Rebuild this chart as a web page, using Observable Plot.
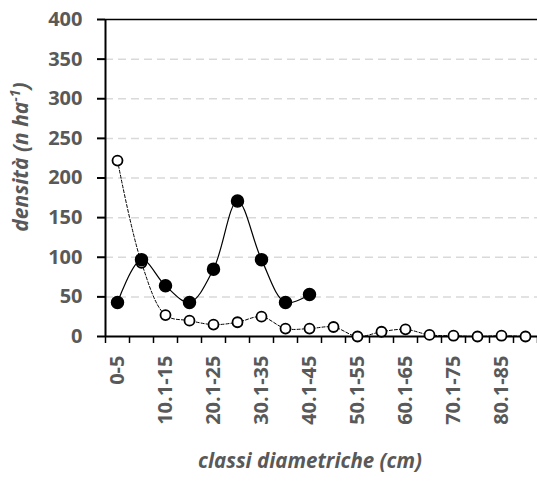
<!DOCTYPE html>
<html>
<head>
<meta charset="utf-8">
<script src="https://cdn.jsdelivr.net/npm/d3@7"></script>
<script src="https://cdn.jsdelivr.net/npm/@observablehq/plot@0.6"></script>
<style>
  html, body { margin: 0; padding: 0; background: #fff; }
  #chart svg { display: block; }
</style>
</head>
<body>
<div id="chart"></div>
<script>
const categories = ["0-5","5.1-10","10.1-15","15.1-20","20.1-25","25.1-30","30.1-35","35.1-40","40.1-45","45.1-50","50.1-55","55.1-60","60.1-65","65.1-70","70.1-75","75.1-80","80.1-85","85.1-90"];
const filledValues = [43, 97, 64, 43, 85, 171, 97, 43, 53];
const openValues = [222, 93, 27, 20, 15, 18, 25, 10, 10, 12, 0, 6, 9, 2, 1, 0, 1, 0];
const yTicks = [0, 50, 100, 150, 200, 250, 300, 350, 400];
const gridTicks = [50, 100, 150, 200, 250, 300, 350];
const xTickLabels = ["0-5","10.1-15","20.1-25","30.1-35","40.1-45","50.1-55","60.1-65","70.1-75","80.1-85"];

const filled = filledValues.map((v, i) => ({i, v}));
const open = openValues.map((v, i) => ({i, v}));
const boundaries = d3.range(categories.length + 1).map(k => k - 0.5);
const labelIdx = xTickLabels.map(l => categories.indexOf(l));

const gray = "#595959";
const font = "'Open Sans', sans-serif";

const plot = Plot.plot({
  width: 537,
  height: 481,
  marginLeft: 105,
  marginRight: 0,
  marginTop: 19,
  marginBottom: 145,
  style: {fontFamily: font, background: "#fff"},
  x: {type: "linear", domain: [-0.5, categories.length - 0.5]},
  y: {domain: [0, 400]},
  marks: [
    Plot.ruleY(gridTicks, {stroke: "#d9d9d9", strokeWidth: 1.5, strokeDasharray: "8,5"}),
    Plot.axisY({ticks: yTicks, tickSize: 8, tickPadding: 15, tickFormat: d => d, label: null,
      fill: gray, fontSize: 20, fontWeight: "bold", stroke: "#000", strokeWidth: 2}),
    Plot.axisX({ticks: boundaries, tickSize: 7, tickFormat: () => "", label: null, stroke: "#000", strokeWidth: 1.5}),
    Plot.axisX({ticks: labelIdx, tickSize: 0, tickPadding: 19, tickRotate: -90, tickFormat: i => categories[i],
      label: null, fill: gray, fontSize: 20, fontWeight: "bold"}),
    Plot.ruleY([400], {stroke: "#000", strokeWidth: 1.5}),
    Plot.ruleX([-0.5], {stroke: "#000", strokeWidth: 2}),
    Plot.ruleY([0], {stroke: "#000", strokeWidth: 2}),
    Plot.line(open, {x: "i", y: "v", curve: "catmull-rom", stroke: "#000", strokeWidth: 1, strokeDasharray: "3,2"}),
    Plot.dot(open, {x: "i", y: "v", r: 5, fill: "#fff", stroke: "#000", strokeWidth: 1.8}),
    Plot.line(filled, {x: "i", y: "v", curve: "catmull-rom", stroke: "#000", strokeWidth: 1.2}),
    Plot.dot(filled, {x: "i", y: "v", r: 6, fill: "#000", stroke: "#000"})
  ]
});

document.getElementById("chart").appendChild(plot);

const svg = d3.select(plot);
// y axis title with superscript
const yt = svg.append("text")
  .attr("transform", "translate(28,157) rotate(-90)")
  .attr("text-anchor", "middle")
  .attr("fill", gray)
  .style("font-family", font)
  .style("font-size", "21px")
  .style("font-weight", "bold")
  .style("font-style", "italic");
yt.append("tspan").text("densità (n ha");
yt.append("tspan").attr("dy", "-8").style("font-size", "14px").text("-1");
yt.append("tspan").attr("dy", "8").text(")");

svg.append("text")
  .attr("x", 310)
  .attr("y", 468)
  .attr("text-anchor", "middle")
  .attr("fill", gray)
  .style("font-family", font)
  .style("font-size", "20.5px")
  .style("font-weight", "bold")
  .style("font-style", "italic")
  .text("classi diametriche (cm)");
</script>
</body>
</html>
